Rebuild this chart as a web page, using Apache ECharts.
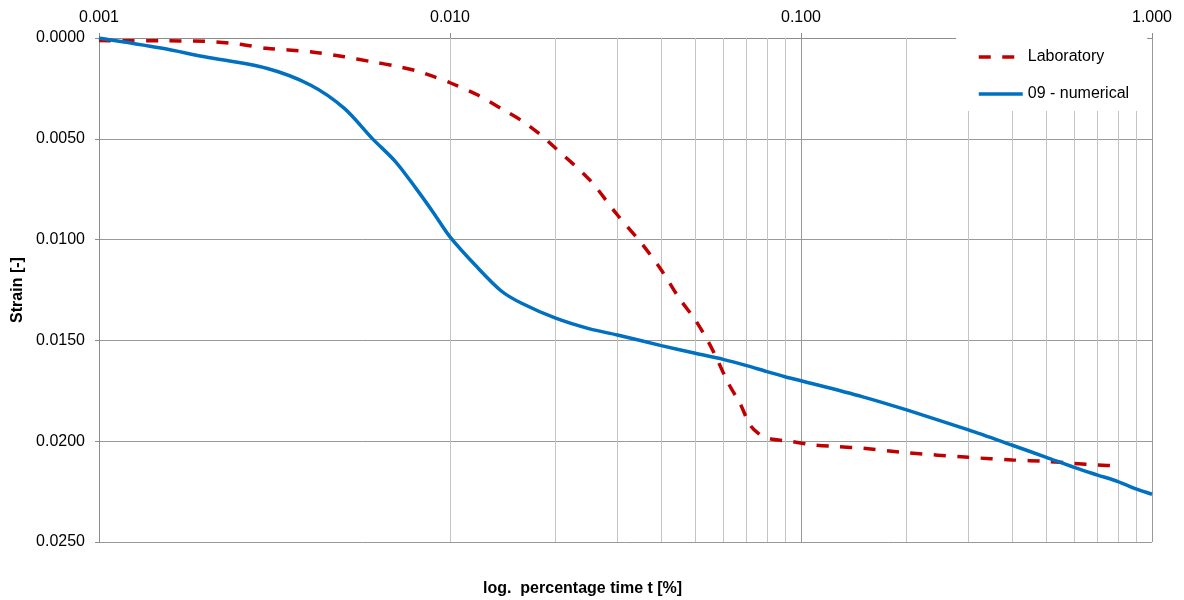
<!DOCTYPE html>
<html>
<head>
<meta charset="utf-8">
<script src="https://cdn.jsdelivr.net/npm/echarts@6/dist/echarts.min.js"></script>
<style>
html,body{margin:0;padding:0;background:#fff;}
#chart{width:1184px;height:600px;}
</style>
</head>
<body>
<div id="chart"></div>
<script>
// ---- data ----
const labTime = [0.001, 0.0015, 0.002, 0.0025, 0.003, 0.004, 0.005, 0.006, 0.007, 0.008, 0.009, 0.010,
  0.012, 0.014, 0.016, 0.018, 0.020, 0.025, 0.030, 0.035, 0.040, 0.045, 0.050, 0.0544, 0.0578, 0.0621,
  0.0670, 0.0716, 0.0756, 0.0807, 0.0941, 0.1096, 0.1277, 0.1505, 0.2, 0.3, 0.4, 0.5, 0.6, 0.7, 0.807];
const labStrain = [0.00013, 0.00014, 0.00016, 0.00030, 0.00051, 0.00068, 0.00093, 0.00118, 0.00139, 0.00162, 0.00192, 0.00222,
  0.00283, 0.00350, 0.00410, 0.00476, 0.00547, 0.00704, 0.00878, 0.01015, 0.01151, 0.01291, 0.01399, 0.01506, 0.01597, 0.01713,
  0.01812, 0.01920, 0.01961, 0.01986, 0.02002, 0.02019, 0.02027, 0.02035, 0.02057, 0.02080, 0.02093, 0.02100, 0.02110, 0.02118, 0.02123];

const numTime = [0.001, 0.0015, 0.002, 0.003, 0.004, 0.005, 0.006, 0.007, 0.008, 0.009, 0.010,
  0.012, 0.014, 0.016, 0.020, 0.025, 0.030, 0.040, 0.050, 0.060, 0.070, 0.080, 0.090, 0.100,
  0.150, 0.2, 0.3, 0.4, 0.5, 0.6, 0.7, 0.8, 0.9, 1.0];
const numStrain = [0.0, 0.00050, 0.00093, 0.00150, 0.00233, 0.00349, 0.00498, 0.00614, 0.00746, 0.00870, 0.00986,
  0.01140, 0.01255, 0.01316, 0.01390, 0.01443, 0.01473, 0.01526, 0.01564, 0.01594, 0.01625, 0.01655, 0.01680, 0.01700,
  0.01780, 0.01845, 0.01944, 0.02020, 0.02080, 0.02130, 0.02168, 0.02200, 0.02237, 0.02263];

const seriesNames = ['Laboratory', '09 - numerical'];
const xAxisName = 'log.  percentage time t [%]';
const yAxisName = 'Strain [-]';
const minorMultipliers = [2, 3, 4, 5, 6, 7, 8, 9];
const decades = [0.001, 0.01, 0.1];

// minor log grid positions
const minorGrid = [];
decades.forEach(d => minorMultipliers.forEach(m => minorGrid.push(+(d * m).toPrecision(3))));

const FONT = 'Liberation Sans, Arial, sans-serif';
const chart = echarts.init(document.getElementById('chart'), null, {renderer: 'canvas'});

chart.setOption({
  animation: false,
  backgroundColor: '#ffffff',
  grid: {left: 99, right: 32, top: 38, bottom: 58, containLabel: false},
  legend: {
    orient: 'vertical',
    left: 956, top: 33,
    padding: [16, 18, 9, 21],
    itemWidth: 44, itemHeight: 14, itemGap: 21,
    backgroundColor: '#ffffff',
    textStyle: {fontFamily: FONT, fontSize: 16, color: '#000'},
    itemStyle: {opacity: 0},
    lineStyle: {width: 3.5},
    data: seriesNames,
    z: 10
  },
  xAxis: {
    type: 'log', logBase: 10, position: 'top',
    min: 0.001, max: 1,
    axisLine: {show: true, lineStyle: {color: '#8c8c8c', width: 1}},
    axisTick: {show: true, inside: false, length: 5, lineStyle: {color: '#8c8c8c'}},
    axisLabel: {fontFamily: FONT, fontSize: 16, color: '#000', margin: 12,
      formatter: v => Number(v).toFixed(3)},
    splitLine: {show: true, lineStyle: {color: '#999999', width: 1}},
    minorTick: {show: false}, minorSplitLine: {show: false}
  },
  yAxis: {
    type: 'value', inverse: true,
    min: 0, max: 0.025, interval: 0.005,
    name: yAxisName, nameLocation: 'middle', nameGap: 68, nameRotate: 90,
    nameTextStyle: {fontFamily: FONT, fontSize: 16, fontWeight: 'bold', color: '#000'},
    axisLine: {show: true, lineStyle: {color: '#8c8c8c', width: 1}},
    axisTick: {show: true, inside: false, length: 4, lineStyle: {color: '#8c8c8c'}},
    axisLabel: {fontFamily: FONT, fontSize: 16, color: '#000', margin: 14,
      formatter: v => Number(v).toFixed(4)},
    splitLine: {show: true, lineStyle: {color: '#999999', width: 1}}
  },
  graphic: [{
    type: 'text', left: 483, top: 581,
    style: {text: xAxisName, font: 'bold 16px ' + FONT, fill: '#000'}
  }],
  series: [
    {
      name: seriesNames[0], type: 'line', z: 3,
      data: labTime.map((t, i) => [t, labStrain[i]]),
      showSymbol: false, symbol: 'none', smooth: 0.3,
      lineStyle: {color: '#c00000', width: 3.5, type: [12, 11.5]},
      itemStyle: {color: '#c00000'},
      markLine: {
        silent: true, symbol: 'none', z: 1,
        label: {show: false},
        lineStyle: {color: '#c4c4c4', width: 1, type: 'solid'},
        emphasis: {disabled: true},
        data: minorGrid.map(v => ({xAxis: v}))
      }
    },
    {
      name: seriesNames[1], type: 'line', z: 4,
      data: numTime.map((t, i) => [t, numStrain[i]]),
      showSymbol: false, symbol: 'none', smooth: 0.3,
      lineStyle: {color: '#0070c0', width: 3.5, type: 'solid'},
      itemStyle: {color: '#0070c0'}
    }
  ]
});
</script>
</body>
</html>
